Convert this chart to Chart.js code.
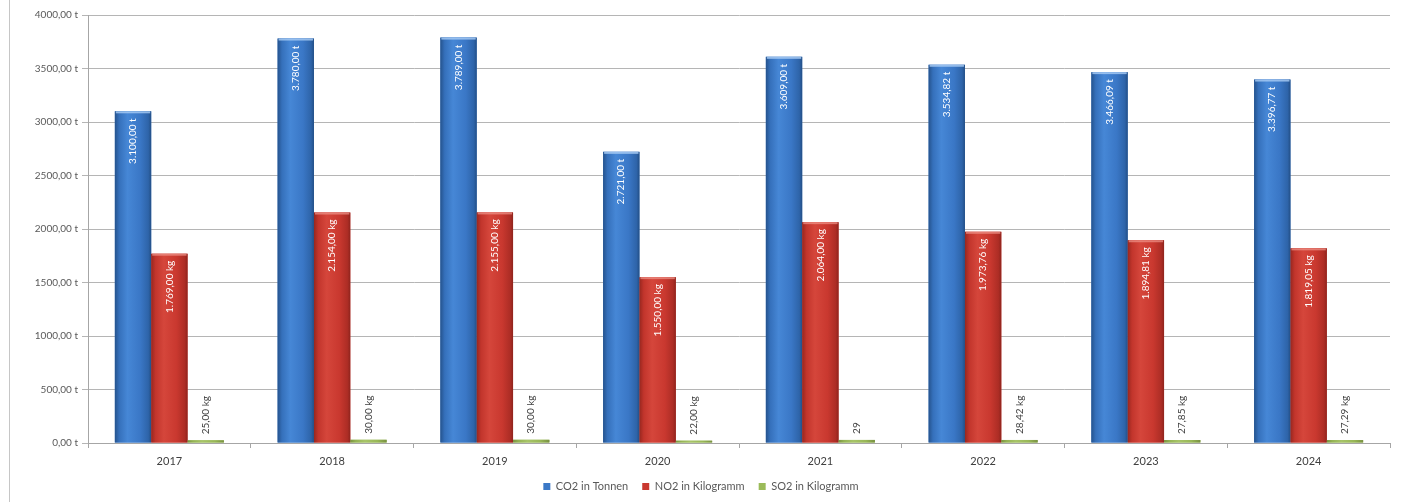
<!DOCTYPE html>
<html>
<head>
<meta charset="utf-8">
<script src="https://cdn.jsdelivr.net/npm/chart.js@4.4.1/dist/chart.umd.min.js"></script>
<style>
    html, body { margin: 0; padding: 0; background: #fff; }
    #wrap { position: relative; width: 1403px; height: 502px; }
    #frame { position: absolute; left: 9px; top: 0; width: 1px; height: 502px; background: #c6c6c6; }
</style>
</head>
<body>
<div id="wrap">
    <div id="frame"></div>
    <canvas id="chart" width="1403" height="502"></canvas>
</div>
<script>
// Data
const years = ["2017", "2018", "2019", "2020", "2021", "2022", "2023", "2024"];
const co2Tonnen = [3100, 3780, 3789, 2721, 3609, 3534.82, 3466.09, 3396.77];
const no2Kilogramm = [1769, 2154, 2155, 1550, 2064, 1973.76, 1894.81, 1819.05];
const so2Kilogramm = [25, 30, 30, 22, 29, 28.42, 27.85, 27.29];

const co2Labels = ["3.100,00 t", "3.780,00 t", "3.789,00 t", "2.721,00 t", "3.609,00 t", "3.534,82 t", "3.466,09 t", "3.396,77 t"];
const no2Labels = ["1.769,00 kg", "2.154,00 kg", "2.155,00 kg", "1.550,00 kg", "2.064,00 kg", "1.973,76 kg", "1.894,81 kg", "1.819,05 kg"];
const so2Labels = ["25,00 kg", "30,00 kg", "30,00 kg", "22,00 kg", "29", "28,42 kg", "27,85 kg", "27,29 kg"];

const yTickLabels = ["0,00 t", "500,00 t", "1000,00 t", "1500,00 t", "2000,00 t", "2500,00 t", "3000,00 t", "3500,00 t", "4000,00 t"];

// Excel-like shading across each bar
const shades = [
    [[0, "#25538d"], [0.12, "#3570bb"], [0.35, "#4687d6"], [0.7, "#3a77c6"], [0.92, "#2e64a9"], [1, "#234f86"]],
    [[0, "#98271f"], [0.12, "#c2352c"], [0.35, "#d5463b"], [0.7, "#c9382f"], [0.92, "#ad2d25"], [1, "#8f241d"]],
    [[0, "#7a9442"], [0.15, "#94b354"], [0.4, "#a7c468"], [0.75, "#98b757"], [1, "#789141"]]
];
const labelSets = [co2Labels, no2Labels, so2Labels];

const barLook = {
    id: "barLook",
    afterDatasetsDraw(chart) {
        const ctx = chart.ctx;
        // gradient fill on top of the plain bars
        chart.data.datasets.forEach((ds, i) => {
            chart.getDatasetMeta(i).data.forEach(bar => {
                const left = bar.x - bar.width / 2;
                const g = ctx.createLinearGradient(left, 0, left + bar.width, 0);
                shades[i].forEach(s => g.addColorStop(s[0], s[1]));
                ctx.save();
                ctx.fillStyle = g;
                ctx.fillRect(left, bar.y, bar.width, bar.base - bar.y);
                if (i < 2) {
                    ctx.fillStyle = i === 0 ? "rgba(170,205,245,0.8)" : "rgba(240,150,140,0.7)";
                    ctx.fillRect(left + 1, bar.y, bar.width - 2, 2);
                }
                ctx.restore();
            });
        });
        // rotated value labels
        ctx.save();
        ctx.font = "10px Lato";
        ctx.textBaseline = "middle";
        chart.data.datasets.forEach((ds, i) => {
            chart.getDatasetMeta(i).data.forEach((bar, j) => {
                ctx.save();
                ctx.translate(bar.x, bar.y);
                ctx.rotate(-Math.PI / 2);
                if (i < 2) {
                    ctx.fillStyle = "#ffffff";
                    ctx.textAlign = "right";
                    ctx.fillText(labelSets[i][j], -7, 0);
                } else {
                    ctx.fillStyle = "#404040";
                    ctx.textAlign = "left";
                    ctx.fillText(labelSets[i][j], 6, 0);
                }
                ctx.restore();
            });
        });
        ctx.restore();
    }
};

const ctx = document.getElementById("chart").getContext("2d");

new Chart(ctx, {
    type: "bar",
    data: {
        labels: years,
        datasets: [
            { label: "CO2 in Tonnen", data: co2Tonnen, backgroundColor: "#3b78c6" },
            { label: "NO2 in Kilogramm", data: no2Kilogramm, backgroundColor: "#c9382f" },
            { label: "SO2 in Kilogramm", data: so2Kilogramm, backgroundColor: "#9bbb59" }
        ]
    },
    options: {
        responsive: false,
        animation: false,
        layout: { padding: { left: 12, right: 13, top: 15, bottom: 0 } },
        datasets: {
            bar: { categoryPercentage: 0.67, barPercentage: 1 }
        },
        plugins: {
            legend: {
                position: "bottom",
                labels: {
                    boxWidth: 7,
                    boxHeight: 7,
                    padding: 14,
                    color: "#595959",
                    font: { family: "Lato", size: 11 }
                }
            },
            tooltip: { enabled: false }
        },
        scales: {
            x: {
                grid: { display: true, drawOnChartArea: false, drawTicks: true, tickLength: 5, color: "#a6a6a6" },
                border: { color: "#a6a6a6" },
                ticks: { color: "#404040", font: { family: "Lato", size: 11 }, padding: 7 },
                afterFit(scale) { scale.height = 24; }
            },
            y: {
                min: 0,
                max: 4000,
                ticks: {
                    stepSize: 500,
                    color: "#595959",
                    font: { family: "Lato", size: 10 },
                    padding: 4,
                    callback: (v, i) => yTickLabels[i]
                },
                grid: { color: "#b5b5b5", tickLength: 6 },
                border: { color: "#a6a6a6" },
                afterFit(scale) { scale.width = 76; }
            }
        }
    },
    plugins: [barLook]
});
</script>
</body>
</html>
